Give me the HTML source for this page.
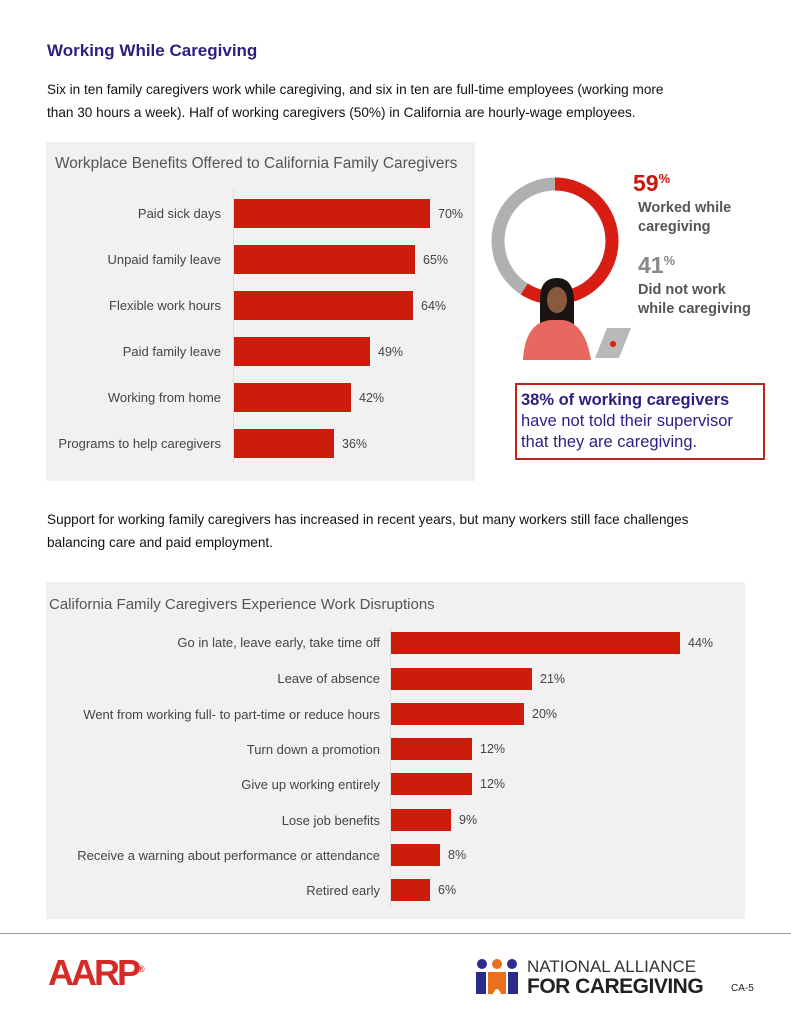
<!DOCTYPE html>
<html><head><meta charset="utf-8"><style>
body{margin:0;width:791px;height:1024px;background:#fff;font-family:"Liberation Sans",Arial,sans-serif;position:relative;overflow:hidden}
.a{position:absolute}
.lab{position:absolute;text-align:right;color:#444;font-size:13px;white-space:nowrap}
.bar{position:absolute;background:#cc1c0c}
.val{position:absolute;color:#444;font-size:12.5px}
.lab2{position:absolute;text-align:right;color:#444;font-size:13px;white-space:nowrap}
</style></head><body>
<div class="a" style="left:47px;top:41px;font-size:17px;font-weight:bold;color:#2b1f84">Working While Caregiving</div>
<div class="a" style="left:47px;top:78px;font-size:13.6px;color:#111;line-height:23px;width:700px">Six in ten family caregivers work while caregiving, and six in ten are full-time employees (working more<br>than 30 hours a week). Half of working caregivers (50%) in California are hourly-wage employees.</div>

<div class="a" style="left:46px;top:142px;width:429px;height:339px;background:#f1f1f1"></div>
<div class="a" style="left:55px;top:155px;font-size:15.4px;color:#555">Workplace Benefits Offered to California Family Caregivers</div>
<div class="a" style="left:233px;top:188px;width:1px;height:275px;background:#ddd"></div>

<div class="lab" style="right:570px;top:206px">Paid sick days</div><div class="bar" style="left:234px;top:199px;width:196px;height:29px"></div><div class="val" style="left:438px;top:207px">70%</div>
<div class="lab" style="right:570px;top:252px">Unpaid family leave</div><div class="bar" style="left:234px;top:245px;width:181px;height:29px"></div><div class="val" style="left:423px;top:253px">65%</div>
<div class="lab" style="right:570px;top:298px">Flexible work hours</div><div class="bar" style="left:234px;top:291px;width:179px;height:29px"></div><div class="val" style="left:421px;top:299px">64%</div>
<div class="lab" style="right:570px;top:344px">Paid family leave</div><div class="bar" style="left:234px;top:337px;width:136px;height:29px"></div><div class="val" style="left:378px;top:345px">49%</div>
<div class="lab" style="right:570px;top:390px">Working from home</div><div class="bar" style="left:234px;top:383px;width:117px;height:29px"></div><div class="val" style="left:359px;top:391px">42%</div>
<div class="lab" style="right:570px;top:436px">Programs to help caregivers</div><div class="bar" style="left:234px;top:429px;width:100px;height:29px"></div><div class="val" style="left:342px;top:437px">36%</div>

<svg class="a" style="left:485px;top:170px" width="160" height="200" viewBox="0 0 160 200">
<circle cx="70" cy="71" r="57" fill="none" stroke="#b0b0b0" stroke-width="13"/>
<circle cx="70" cy="71" r="57" fill="none" stroke="#d81e14" stroke-width="13" stroke-dasharray="211.3 358.1" transform="rotate(-90 70 71)"/>
<path d="M72 108 q-18 0 -17 24 l0 32 l34 0 l0 -32 q0 -24 -17 -24z" fill="#1a1412"/>
<ellipse cx="72" cy="130" rx="10" ry="13" fill="#8a5a3e"/>
<path d="M38 190 q2 -38 28 -40 l12 0 q22 3 28 40z" fill="#e8685f"/>
<polygon points="110,188 122,158 146,158 134,188" fill="#b8b8b8"/>
<circle cx="128" cy="174" r="3" fill="#d81e14"/>
</svg>
<div class="a" style="left:633px;top:170px;font-size:23px;font-weight:bold;color:#c8170c">59<span style="font-size:13px;vertical-align:8px">%</span></div>
<div class="a" style="left:638px;top:199px;font-size:14.5px;font-weight:bold;color:#555;line-height:19px">Worked while<br>caregiving</div>
<div class="a" style="left:638px;top:252px;font-size:23px;font-weight:bold;color:#888">41<span style="font-size:13px;vertical-align:8px">%</span></div>
<div class="a" style="left:638px;top:281px;font-size:14.5px;font-weight:bold;color:#555;line-height:19px">Did not work<br>while caregiving</div>

<div class="a" style="left:515px;top:383px;width:250px;height:77px;border:2px solid #b8261c;box-sizing:border-box"></div>
<div class="a" style="left:521px;top:390px;font-size:16.5px;color:#2b1f84;line-height:21px;white-space:nowrap"><b>38% of working caregivers</b><br>have not told their supervisor<br>that they are caregiving.</div>

<div class="a" style="left:47px;top:508px;font-size:13.6px;color:#111;line-height:23px">Support for working family caregivers has increased in recent years, but many workers still face challenges<br>balancing care and paid employment.</div>

<div class="a" style="left:46px;top:582px;width:699px;height:337px;background:#f1f1f1"></div>
<div class="a" style="left:49px;top:596px;font-size:15px;color:#555">California Family Caregivers Experience Work Disruptions</div>
<div class="a" style="left:390px;top:627px;width:1px;height:280px;background:#ddd"></div>

<div class="lab2" style="right:411px;top:635px">Go in late, leave early, take time off</div><div class="bar" style="left:391px;top:632px;width:289px;height:22px"></div><div class="val" style="left:688px;top:636px">44%</div>
<div class="lab2" style="right:411px;top:671px">Leave of absence</div><div class="bar" style="left:391px;top:668px;width:141px;height:22px"></div><div class="val" style="left:540px;top:672px">21%</div>
<div class="lab2" style="right:411px;top:707px">Went from working full- to part-time or reduce hours</div><div class="bar" style="left:391px;top:703px;width:133px;height:22px"></div><div class="val" style="left:532px;top:707px">20%</div>
<div class="lab2" style="right:411px;top:742px">Turn down a promotion</div><div class="bar" style="left:391px;top:738px;width:81px;height:22px"></div><div class="val" style="left:480px;top:742px">12%</div>
<div class="lab2" style="right:411px;top:777px">Give up working entirely</div><div class="bar" style="left:391px;top:773px;width:81px;height:22px"></div><div class="val" style="left:480px;top:777px">12%</div>
<div class="lab2" style="right:411px;top:813px">Lose job benefits</div><div class="bar" style="left:391px;top:809px;width:60px;height:22px"></div><div class="val" style="left:459px;top:813px">9%</div>
<div class="lab2" style="right:411px;top:848px">Receive a warning about performance or attendance</div><div class="bar" style="left:391px;top:844px;width:49px;height:22px"></div><div class="val" style="left:448px;top:848px">8%</div>
<div class="lab2" style="right:411px;top:883px">Retired early</div><div class="bar" style="left:391px;top:879px;width:39px;height:22px"></div><div class="val" style="left:438px;top:883px">6%</div>

<div class="a" style="left:0;top:933px;width:791px;height:1px;background:#999"></div>
<div class="a" style="left:48px;top:952px;font-size:36px;font-weight:bold;color:#d52b27;letter-spacing:-3px">AARP<sup style="font-size:9px;letter-spacing:0">®</sup></div>
<svg class="a" style="left:474px;top:959px" width="48" height="38">
<circle cx="8" cy="5" r="5" fill="#2b2b8a"/><circle cx="23" cy="5" r="5" fill="#e8701e"/><circle cx="38" cy="5" r="5" fill="#2b2b8a"/>
<path d="M2 13h10v22h-10z" fill="#2b2b8a"/><path d="M34 13h10v22h-10z" fill="#2b2b8a"/><path d="M14 13h18v22h-5q-4-10-8 0h-5z" fill="#e8701e"/>
</svg>
<div class="a" style="left:527px;top:958px;font-size:17px;color:#333;line-height:18px">NATIONAL ALLIANCE</div>
<div class="a" style="left:527px;top:975px;font-size:21px;font-weight:bold;color:#222;letter-spacing:-0.5px">FOR CAREGIVING</div>
<div class="a" style="left:731px;top:983px;font-size:10px;color:#222">CA-5</div>
</body></html>
